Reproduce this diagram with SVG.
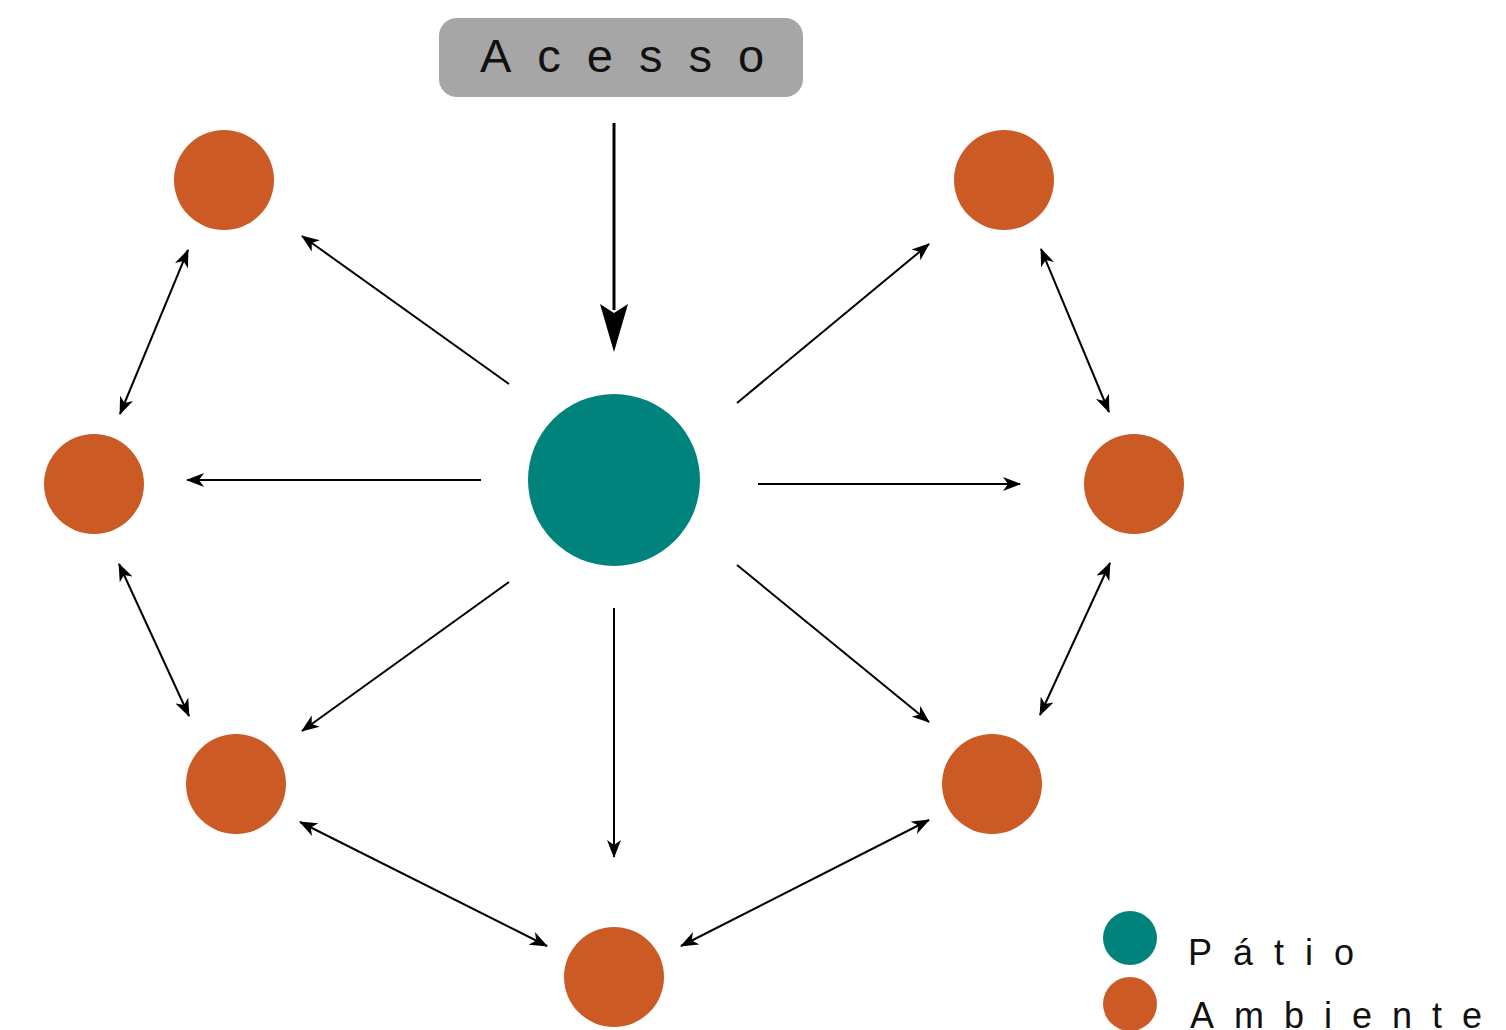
<svg xmlns="http://www.w3.org/2000/svg" width="1506" height="1030" viewBox="0 0 1506 1030">
<style>
.amb{fill:#cc5a25}
.pat{fill:#00837c}
.c{stroke:#000;stroke-width:2;fill:none}
.t{font-family:"Liberation Sans",Arial,sans-serif;fill:#111}
</style>
<defs>
<marker id="a" markerUnits="userSpaceOnUse" viewBox="0 0 18 14" markerWidth="18" markerHeight="14" refX="17" refY="7" orient="auto-start-reverse">
<path d="M0,0 L18,7 L0,14 L5,7 Z" fill="#000"/>
</marker>
</defs>
<rect width="1506" height="1030" fill="#fff"/>
<g id="acesso">
<rect x="439" y="18" width="364" height="79" rx="18" fill="#a6a6a6"/>
<text class="t" x="480" y="72" font-size="47" letter-spacing="26">Acesso</text>
</g>
<g id="patio"><circle class="pat" cx="614" cy="480" r="86"/></g>
<g id="a1"><circle class="amb" cx="224" cy="180" r="50"/></g>
<g id="a2"><circle class="amb" cx="1004" cy="180" r="50"/></g>
<g id="a3"><circle class="amb" cx="94" cy="484" r="50"/></g>
<g id="a4"><circle class="amb" cx="1134" cy="484" r="50"/></g>
<g id="a5"><circle class="amb" cx="236" cy="784" r="50"/></g>
<g id="a6"><circle class="amb" cx="992" cy="784" r="50"/></g>
<g id="a7"><circle class="amb" cx="614" cy="977" r="50"/></g>
<g id="connectors">
<line x1="614" y1="123" x2="614" y2="310" stroke="#000" stroke-width="3"/>
<polygon points="600,304 614,313 628,304 614,352" fill="#000"/>
<line class="c" x1="509" y1="384" x2="302" y2="236" marker-end="url(#a)"/>
<line class="c" x1="737" y1="403" x2="929" y2="244" marker-end="url(#a)"/>
<line class="c" x1="481" y1="480" x2="187" y2="480" marker-end="url(#a)"/>
<line class="c" x1="758" y1="484" x2="1020" y2="484" marker-end="url(#a)"/>
<line class="c" x1="509" y1="582" x2="302" y2="731" marker-end="url(#a)"/>
<line class="c" x1="614" y1="608" x2="614" y2="857" marker-end="url(#a)"/>
<line class="c" x1="737" y1="565" x2="929" y2="722" marker-end="url(#a)"/>
<line class="c" x1="188" y1="250" x2="120" y2="414" marker-start="url(#a)" marker-end="url(#a)"/>
<line class="c" x1="1041" y1="249" x2="1109" y2="412" marker-start="url(#a)" marker-end="url(#a)"/>
<line class="c" x1="119" y1="564" x2="189" y2="716" marker-start="url(#a)" marker-end="url(#a)"/>
<line class="c" x1="1110" y1="563" x2="1040" y2="715" marker-start="url(#a)" marker-end="url(#a)"/>
<line class="c" x1="300" y1="822" x2="547" y2="946" marker-start="url(#a)" marker-end="url(#a)"/>
<line class="c" x1="929" y1="820" x2="681" y2="946" marker-start="url(#a)" marker-end="url(#a)"/>
</g>
<g id="legend">
<circle class="pat" cx="1130" cy="938" r="27"/>
<circle class="amb" cx="1130" cy="1004" r="27"/>
<text class="t" x="1188" y="965" font-size="36" letter-spacing="21">Pátio</text>
<text class="t" x="1190" y="1028" font-size="36" letter-spacing="20">Ambiente</text>
</g>
</svg>
